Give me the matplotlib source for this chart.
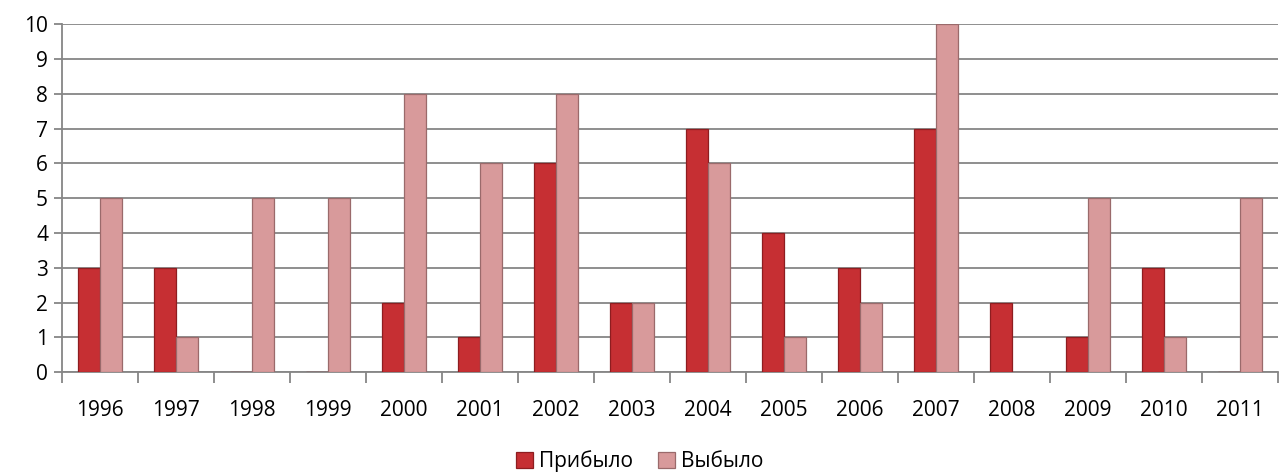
"""Bar chart: arrivals and departures by year."""

import numpy as np
from matplotlib import pyplot as plt

years = ["1996", "1997", "1998", "1999", "2000", "2001", "2002", "2003",
         "2004", "2005", "2006", "2007", "2008", "2009", "2010", "2011"]
arrived = [3, 3, 0, 0, 2, 1, 6, 2, 7, 4, 3, 7, 2, 1, 3, 0]
left = [5, 1, 5, 5, 8, 6, 8, 2, 6, 1, 2, 10, 0, 5, 1, 5]

RED = "#C62F33"
PINK = "#D89A9B"
GRID = "#868686"

plt.rcParams["font.family"] = ["Open Sans", "DejaVu Sans"]

fig = plt.figure(figsize=(12.8, 4.74), dpi=100)
ax = fig.add_axes([0.0484, 0.215, 0.950, 0.734])

x = np.arange(len(years))
width = 0.29
ax.bar(x - width / 2, arrived, width, color=RED, edgecolor="#8E1D20",
       linewidth=0.9, label="Прибыло", zorder=3)
ax.bar(x + width / 2, left, width, color=PINK, edgecolor="#9A6a6b",
       linewidth=0.9, label="Выбыло", zorder=3)

ax.set_xlim(-0.5, len(years) - 0.5)
ax.set_ylim(0, 10)
ax.set_yticks(range(0, 11))
ax.yaxis.grid(True, color=GRID, linewidth=1.3, zorder=0)
ax.set_xticks(x)
ax.set_xticklabels(years)
ax.set_xticks(np.arange(-0.5, len(years), 1.0), minor=True)
ax.tick_params(axis="x", which="major", length=0, labelsize=15, pad=20)
ax.tick_params(axis="x", which="minor", length=8, width=1.3, color=GRID,
               direction="out")
ax.tick_params(axis="y", length=6, width=1.3, color=GRID, direction="out",
               labelsize=15, pad=4)

for side in ["top", "right"]:
    ax.spines[side].set_visible(False)
for side in ["left", "bottom"]:
    ax.spines[side].set_color(GRID)
    ax.spines[side].set_linewidth(1.3)

fig.legend(loc="lower center", bbox_to_anchor=(0.5, -0.035), ncol=2,
           frameon=False, fontsize=15, handlelength=0.8, handleheight=0.8,
           handletextpad=0.3, columnspacing=1.2)

fig.savefig("out.png", dpi=100)
